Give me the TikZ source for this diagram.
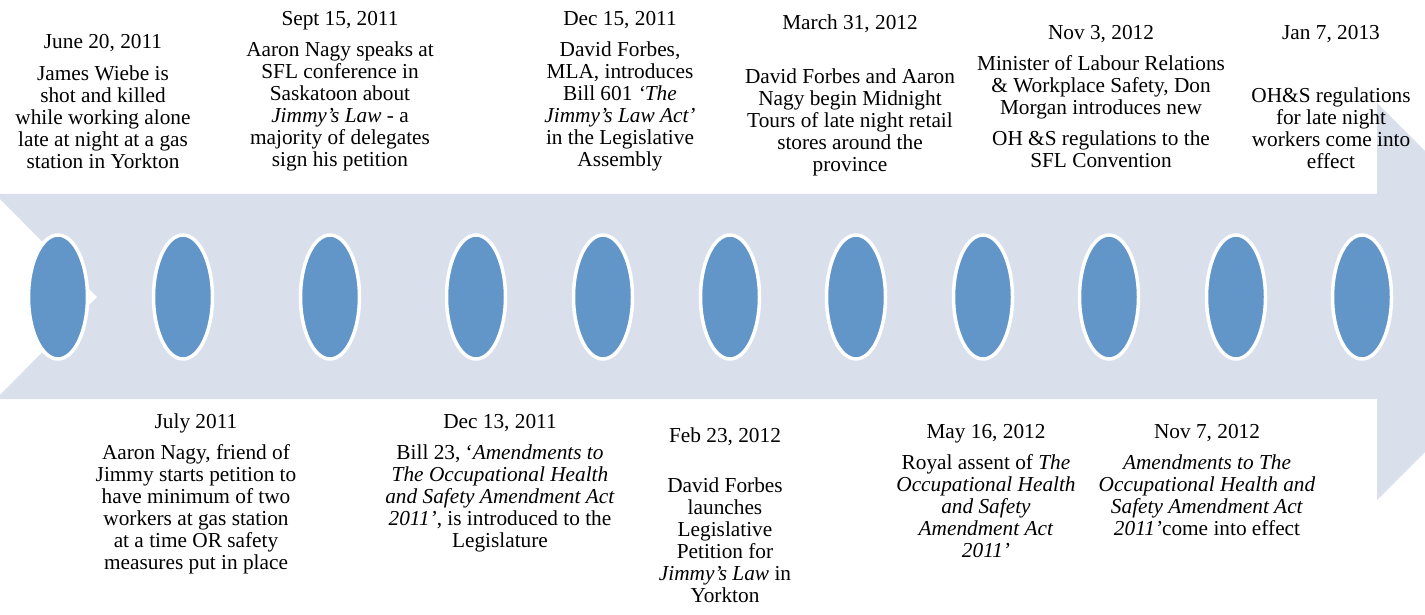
\documentclass[tikz,border=0pt]{standalone}
\usepackage{fontspec}
\setmainfont{Liberation Serif}
\usetikzlibrary{shapes.geometric}
\definecolor{band}{RGB}{218,223,236}
\definecolor{dot}{RGB}{98,150,200}
\tikzset{
  evdot/.style={ellipse, fill=dot, draw=white, line width=3.5pt, minimum width=59pt, minimum height=124pt, inner sep=0pt},
  evtext/.style={align=center, inner sep=0pt, anchor=north, font=\fontsize{21.3}{22}\selectfont}
}
\begin{document}
\begin{tikzpicture}[x=1pt,y=-1pt]
\useasboundingbox (0,0) rectangle (1425,615);
\clip (0,0) rectangle (1425,615);
\fill[band] (0,194) -- (1377,194) -- (1377,103) -- (1575.5,301.5) -- (1377,500) -- (1377,399) -- (0,399) -- (0,395) -- (97,297) -- (0,199) -- cycle;
\foreach \i/\x in {1/58,2/183,3/330,4/476,5/603,6/730,7/856,8/983,9/1109,10/1236,11/1362}{
  \node[evdot] (e\i) at (\x,297) {};
}
\node[evtext] (t1) at (103,34) {June 20, 2011\\[10pt] James Wiebe is\\ shot and killed\\ while working alone\\ late at night at a gas\\ station in Yorkton};
\node[evtext] (t2) at (340,11) {Sept 15, 2011\\[9pt] Aaron Nagy speaks at\\ SFL conference in\\ Saskatoon about\\ \textit{Jimmy’s Law} - a\\ majority of delegates\\ sign his petition};
\node[evtext] (t3) at (620,11) {Dec 15, 2011\\[9pt] David Forbes,\\ MLA, introduces\\ Bill 601 \textit{‘The}\\ \textit{Jimmy’s Law Act’}\\ in the Legislative\\ Assembly};
\node[evtext] (t4) at (850,15) {March 31, 2012\\[32pt] David Forbes and Aaron\\ Nagy begin Midnight\\ Tours of late night retail\\ stores around the\\ province};
\node[evtext] (t5) at (1101,25) {Nov 3, 2012\\[9pt] Minister of Labour Relations\\ \& Workplace Safety, Don\\ Morgan introduces new\\[9pt] OH \&S regulations to the\\ SFL Convention};
\node[evtext] (t6) at (1331,25) {Jan 7, 2013\\[41pt] OH\&S regulations\\ for late night\\ workers come into\\ effect};
\node[evtext] (t7) at (196,414) {July 2011\\[9pt] Aaron Nagy, friend of\\ Jimmy starts petition to\\ have minimum of two\\ workers at gas station\\ at a time OR safety\\ measures put in place};
\node[evtext] (t8) at (500,414) {Dec 13, 2011\\[9pt] Bill 23, ‘\textit{Amendments to}\\ \textit{The Occupational Health}\\ \textit{and Safety Amendment Act}\\ \textit{2011’}, is introduced to the\\ Legislature};
\node[evtext] (t9) at (725,428) {Feb 23, 2012\\[28pt] David Forbes\\ launches\\ Legislative\\ Petition for\\ \textit{Jimmy{\char"27}s Law} in\\ Yorkton};
\node[evtext] (t10) at (986,424) {May 16, 2012\\[9pt] Royal assent of \textit{The}\\ \textit{Occupational Health}\\ \textit{and Safety}\\ \textit{Amendment Act}\\ \textit{2011’}};
\node[evtext] (t11) at (1207,424) {Nov 7, 2012\\[9pt] \textit{Amendments to The}\\ \textit{Occupational Health and}\\ \textit{Safety Amendment Act}\\ \textit{2011’}come into effect};
\end{tikzpicture}
\end{document}
